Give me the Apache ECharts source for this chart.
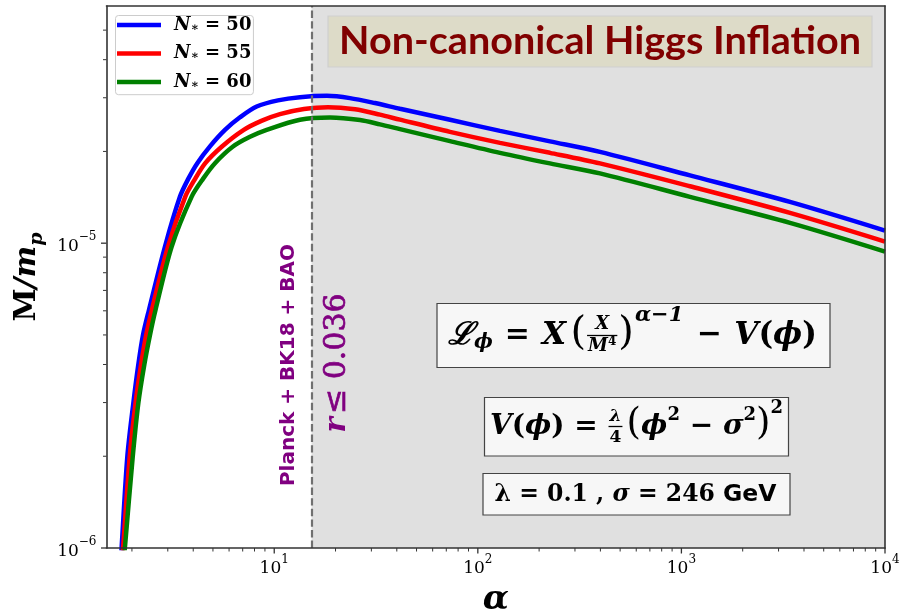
<!DOCTYPE html>
<html>
<head>
<meta charset="utf-8">
<script src="https://cdn.jsdelivr.net/npm/echarts@6/dist/echarts.min.js"></script>
<style>
  html, body { margin: 0; padding: 0; background: #fff; }
  #chart { width: 903px; height: 615px; }
</style>
</head>
<body>
<div id="chart"></div>
<script>
// e-fold numbers N* of the three curves
const nStar = [50, 55, 60];

// alpha and M/m_p along each curve
const alpha50 = [1.739, 1.781, 1.898, 2.031, 2.149, 2.267, 2.425, 2.907, 3.444, 3.770, 4.19, 4.834, 5.729, 6.788, 8.2, 10.43, 13.38, 18.16, 23.56, 31.24, 41.46, 72.98, 128.5, 226.1, 398.1, 1102, 3414, 10000];
const mass50  = [7.85e-7, 1.01e-6, 1.99e-6, 2.98e-6, 3.99e-6, 5.0e-6, 6.04e-6, 9.75e-6, 1.422e-5, 1.619e-5, 1.83e-5, 2.078e-5, 2.353e-5, 2.588e-5, 2.808e-5, 2.942e-5, 3.014e-5, 3.044e-5, 2.992e-5, 2.882e-5, 2.760e-5, 2.54e-5, 2.336e-5, 2.158e-5, 1.993e-5, 1.669e-5, 1.366e-5, 1.10e-5];

const alpha55 = [1.763, 1.812, 1.95, 2.082, 2.216, 2.35, 2.506, 3.007, 3.657, 4.058, 4.585, 5.538, 7.086, 8.705, 10.67, 14.0, 18.37, 24.93, 33.06, 41.46, 72.98, 128.5, 226.1, 398.1, 1102, 3414, 10000];
const mass55  = [7.85e-7, 1.01e-6, 1.99e-6, 2.98e-6, 3.99e-6, 5.0e-6, 6.04e-6, 9.75e-6, 1.422e-5, 1.613e-5, 1.83e-5, 2.075e-5, 2.353e-5, 2.523e-5, 2.651e-5, 2.754e-5, 2.795e-5, 2.749e-5, 2.640e-5, 2.542e-5, 2.319e-5, 2.134e-5, 1.979e-5, 1.827e-5, 1.537e-5, 1.257e-5, 1.012e-5];

const alpha60 = [1.792, 1.849, 2.018, 2.149, 2.3, 2.453, 2.611, 3.136, 3.931, 4.467, 5.117, 6.272, 7.603, 9.182, 13.38, 18.79, 26.38, 33.06, 41.46, 72.98, 128.5, 226.1, 398.1, 1102, 3414, 10000];
const mass60  = [7.85e-7, 1.01e-6, 1.99e-6, 2.98e-6, 3.99e-6, 5.0e-6, 6.04e-6, 9.75e-6, 1.422e-5, 1.626e-5, 1.83e-5, 2.075e-5, 2.233e-5, 2.353e-5, 2.54e-5, 2.584e-5, 2.535e-5, 2.454e-5, 2.366e-5, 2.162e-5, 1.979e-5, 1.827e-5, 1.694e-5, 1.419e-5, 1.166e-5, 9.385e-6];

// observational bound (Planck + BK18 + BAO, r <= 0.036)
const boundAlpha = 15.25;

// axis ranges and ticks
const xRange = [1.5, 10000];
const yRange = [1e-6, 6e-5];
const xMajorTicks = [10, 100, 1000, 10000];
const xMinorTicks = [2, 3, 4, 5, 6, 7, 8, 9, 20, 30, 40, 50, 60, 70, 80, 90, 200, 300, 400, 500, 600, 700, 800, 900, 2000, 3000, 4000, 5000, 6000, 7000, 8000, 9000];
const yMajorTicks = [1e-6, 1e-5];
const yMinorTicks = [2e-6, 3e-6, 4e-6, 5e-6, 6e-6, 7e-6, 8e-6, 9e-6, 2e-5, 3e-5, 4e-5, 5e-5];

const curveAlpha = [alpha50, alpha55, alpha60];
const curveMass = [mass50, mass55, mass60];
const curveColors = ['#0000ff', '#ff0000', '#008000'];

const SERIF = '"DejaVu Serif", "Liberation Serif", serif';
const SANS = '"DejaVu Sans", "Liberation Sans", sans-serif';
const fBI = s => `italic bold ${s}px ${SERIF}`;
const fB = s => `bold ${s}px ${SERIF}`;
const fR = s => `${s}px ${SERIF}`;
const fSansB = s => `bold ${s}px ${SANS}`;

const measureCtx = document.createElement('canvas').getContext('2d');
function textWidth(text, font) { measureCtx.font = font; return measureCtx.measureText(text).width; }
function rowWidth(row) { return row.reduce((w, p) => w + textWidth(p.t, p.f) + (p.kern || 0), 0); }
function txt(p, x, y, color) {
  return { type: 'text', x: x + (p.kern || 0) / 2, y: y, z: 101, silent: true,
    style: { text: p.t, font: p.f, fill: color, align: 'left', verticalAlign: 'middle' } };
}
// lays a formula out piece by piece, centred on (cx, cy)
function formulaElements(parts, cx, cy, color) {
  const widths = parts.map(p => p.frac ? Math.max(rowWidth(p.num), rowWidth(p.den)) + 4 : textWidth(p.t, p.f) + (p.kern || 0));
  const total = widths.reduce((a, b) => a + b, 0);
  let x = cx - total / 2;
  const els = [];
  parts.forEach((p, i) => {
    if (p.frac) {
      const w = widths[i];
      const place = (row, dy) => {
        let rx = x + (w - rowWidth(row)) / 2;
        row.forEach(q => { els.push(txt(q, rx, cy + dy + (q.dy || 0), color)); rx += textWidth(q.t, q.f) + (q.kern || 0); });
      };
      place(p.num, p.numDy);
      place(p.den, p.denDy);
      els.push({ type: 'line', z: 101, silent: true,
        shape: { x1: x + 1, y1: cy + p.barDy, x2: x + w - 1, y2: cy + p.barDy },
        style: { stroke: color, lineWidth: 1.3 } });
    } else {
      els.push(txt(p, x, cy + (p.dy || 0), color));
    }
    x += widths[i];
  });
  return els;
}

function boxRect(x, y, w, h, fill, stroke) {
  return { type: 'rect', z: 100, silent: true, shape: { x: x, y: y, width: w, height: h },
    style: { fill: fill, stroke: stroke, lineWidth: 1.2 } };
}

// Lagrangian
const lagrangian = [
  { t: 'ℒ', f: fBI(31) },
  { t: 'ϕ', f: fBI(20), dy: 7 },
  { t: ' = ', f: fB(30), kern: 3 },
  { t: 'X', f: fBI(31) },
  { t: ' ', f: fR(14) },
  { t: '(', f: fR(40), dy: -2 },
  { frac: true, num: [{ t: 'X', f: fBI(18) }], den: [{ t: 'M', f: fBI(18) }, { t: '4', f: fB(12), dy: -5 }], numDy: -11, denDy: 11, barDy: 0 },
  { t: ')', f: fR(40), dy: -2 },
  { t: 'α−1', f: fBI(21), dy: -20, kern: 2 },
  { t: ' − ', f: fB(30), kern: 4 },
  { t: 'V', f: fBI(31) }, { t: '(', f: fB(31) }, { t: 'ϕ', f: fBI(31) }, { t: ')', f: fB(31) }
];
// Higgs potential
const potential = [
  { t: 'V', f: fBI(28) }, { t: '(', f: fB(28) }, { t: 'ϕ', f: fBI(28) }, { t: ')', f: fB(28) },
  { t: ' = ', f: fB(28) },
  { frac: true, num: [{ t: 'λ', f: fBI(17) }], den: [{ t: '4', f: fB(17) }], numDy: -10, denDy: 11, barDy: 0 },
  { t: ' ', f: fR(10) },
  { t: '(', f: fR(37), dy: -2 },
  { t: 'ϕ', f: fBI(28) }, { t: '2', f: fB(18), dy: -11 },
  { t: ' − ', f: fB(28) },
  { t: 'σ', f: fBI(28) }, { t: '2', f: fB(18), dy: -11 },
  { t: ')', f: fR(37), dy: -2 },
  { t: '2', f: fB(18), dy: -18 }
];
// parameter values
const params = [
  { t: 'λ', f: fB(23.5) }, { t: ' = ', f: fB(23.5) }, { t: '0.1', f: fB(23.5) }, { t: ' , ', f: fB(23.5) },
  { t: 'σ', f: fBI(23.5) }, { t: ' = ', f: fB(23.5) }, { t: '246 ', f: fB(23.5) }, { t: 'GeV', f: fSansB(23.5) }
];

// title text fitted to its box width
const titleText = 'Non-canonical Higgs Inflation';
const titleFont = 'bold 39px Lato, "DejaVu Sans", sans-serif';
const titleScale = 522 / textWidth(titleText, titleFont);

const graphicEls = [
  boxRect(328, 16, 544, 51, '#dddbc8', '#cfcfcf'),
  { type: 'text', x: 600, y: 41, z: 101, scaleX: titleScale, silent: true,
    style: { text: titleText, font: titleFont, fill: '#800000', align: 'center', verticalAlign: 'middle' } },
  boxRect(437, 303.5, 393, 64, '#f7f7f7', '#444'),
  boxRect(484.5, 397.5, 304, 58.5, '#f7f7f7', '#444'),
  boxRect(483, 473.5, 307, 41.5, '#f7f7f7', '#444'),
  { type: 'text', x: 288.5, y: 365, rotation: Math.PI / 2, z: 101, silent: true,
    style: { text: 'Planck + BK18 + BAO', font: `bold 20px ${SANS}`, fill: '#800080', align: 'center', verticalAlign: 'middle' } },
  { type: 'text', x: 337, y: 363, rotation: Math.PI / 2, z: 101, silent: true,
    style: { text: '{r|r} {o|≤ 0.036}', fill: '#800080', align: 'center', verticalAlign: 'middle',
      rich: { r: { font: fBI(29), fill: '#800080' }, o: { font: fR(30), fill: '#800080', stroke: '#800080', lineWidth: 0.7 } } } }
].concat(
  formulaElements(lagrangian, 632.5, 335.5, '#000'),
  formulaElements(potential, 636.5, 426.5, '#000'),
  formulaElements(params, 635.5, 494.5, '#000')
);

function powLabel(v) {
  const e = Math.round(Math.log10(v));
  if (Math.abs(Math.log10(v) - e) > 1e-6) return '';
  return '{b|10}{s|' + String(e).replace('-', '−') + '}';
}
const powRich = {
  b: { fontFamily: SERIF, fontSize: 17, lineHeight: 24, verticalAlign: 'bottom', color: '#000' },
  s: { fontFamily: SERIF, fontSize: 12, lineHeight: 14, verticalAlign: 'top', color: '#000' }
};

const axisLine = { show: true, lineStyle: { color: '#333', width: 1.6 } };

function tickSeries(dataArr, isX) {
  return {
    type: 'custom', z: 10, silent: true, clip: false,
    encode: { x: 0, y: 1 },
    data: dataArr,
    renderItem: function (params, api) {
      const p = api.coord([api.value(0), api.value(1)]);
      const major = api.value(2) === 1;
      const len = major ? 5.5 : 3.5;
      const shape = isX ? { x1: p[0], y1: p[1], x2: p[0], y2: p[1] + len }
                        : { x1: p[0], y1: p[1], x2: p[0] - len, y2: p[1] };
      return { type: 'line', shape: shape, style: { stroke: '#333', lineWidth: major ? 1.3 : 1 } };
    }
  };
}
const xTickData = xMajorTicks.map(v => [v, yRange[0], 1]).concat(xMinorTicks.map(v => [v, yRange[0], 0]));
const yTickData = yMajorTicks.map(v => [xRange[0], v, 1]).concat(yMinorTicks.map(v => [xRange[0], v, 0]));

const curveSeries = nStar.map((n, i) => ({
  name: 'N∗ = ' + n,
  type: 'line',
  data: curveAlpha[i].map((a, k) => [a, curveMass[i][k]]),
  showSymbol: false,
  smooth: 0.3,
  clip: true,
  z: 3,
  color: curveColors[i],
  itemStyle: { color: curveColors[i] },
  lineStyle: { color: curveColors[i], width: 4.5 }
}));

const option = {
  animation: false,
  backgroundColor: '#fff',
  grid: { left: 106.5, right: 18, top: 6, bottom: 67, containLabel: false, outerBoundsMode: 'none' },
  xAxis: [
    { type: 'log', logBase: 10, min: xRange[0], max: xRange[1], z: 10,
      axisLine: axisLine, axisTick: { show: false }, splitLine: { show: false }, minorTick: { show: false },
      axisLabel: { formatter: powLabel, rich: powRich, margin: 5.5, showMinLabel: true, showMaxLabel: true },
      name: 'α', nameLocation: 'middle', nameGap: 35, nameMoveOverlap: false,
      nameTextStyle: { fontFamily: SERIF, fontStyle: 'italic', fontWeight: 'bold', fontSize: 34, color: '#000' } },
    { type: 'log', logBase: 10, min: xRange[0], max: xRange[1], position: 'top', z: 10,
      axisLine: axisLine, axisTick: { show: false }, axisLabel: { show: false }, splitLine: { show: false } }
  ],
  yAxis: [
    { type: 'log', logBase: 10, min: yRange[0], max: yRange[1], z: 10,
      axisLine: axisLine, axisTick: { show: false }, splitLine: { show: false }, minorTick: { show: false },
      axisLabel: { formatter: powLabel, rich: powRich, margin: 10, showMinLabel: true, showMaxLabel: true },
      name: '{m|M}{i|/m}{p|p}', nameLocation: 'middle', nameRotate: 90, nameGap: 60, nameMoveOverlap: false,
      nameTextStyle: { rich: {
        m: { fontFamily: SERIF, fontWeight: 'bold', fontSize: 30, lineHeight: 34, verticalAlign: 'top', color: '#000' },
        i: { fontFamily: SERIF, fontStyle: 'italic', fontWeight: 'bold', fontSize: 30, lineHeight: 34, verticalAlign: 'top', color: '#000' },
        p: { fontFamily: SERIF, fontStyle: 'italic', fontWeight: 'bold', fontSize: 19, lineHeight: 18, verticalAlign: 'bottom', color: '#000' }
      } } },
    { type: 'log', logBase: 10, min: yRange[0], max: yRange[1], position: 'right', z: 10,
      axisLine: axisLine, axisTick: { show: false }, axisLabel: { show: false }, splitLine: { show: false } }
  ],
  legend: {
    data: curveSeries.map(s => s.name),
    orient: 'vertical', left: 115.5, top: 15.5,
    icon: 'rect', itemWidth: 44, itemHeight: 4.5, itemGap: 10.5,
    padding: [0.5, 2, 3.7, 1.5],
    backgroundColor: '#fff', borderColor: '#cccccc', borderWidth: 1, borderRadius: 3,
    formatter: name => '{g|}{n|N}{s|∗}{e|' + name.slice(2) + '}',
    textStyle: { rich: {
      g: { width: 8, lineHeight: 17 },
      n: { fontFamily: SERIF, fontStyle: 'italic', fontWeight: 'bold', fontSize: 18, lineHeight: 17, color: '#000' },
      s: { fontFamily: SERIF, fontWeight: 'bold', fontSize: 12, lineHeight: 9, verticalAlign: 'bottom', color: '#000' },
      e: { fontFamily: SERIF, fontWeight: 'bold', fontSize: 18, lineHeight: 17, color: '#000' }
    } }
  },
  series: [
    { name: 'bound region', type: 'line', data: [], z: 1, silent: true,
      markArea: { silent: true, itemStyle: { color: '#e0e0e0' },
        data: [[{ coord: [boundAlpha, yRange[0]] }, { coord: [xRange[1], yRange[1]] }]] } }
  ].concat(curveSeries, [
    { name: 'bound line', type: 'line', data: [], z: 5, silent: true,
      markLine: { silent: true, symbol: 'none', label: { show: false },
        lineStyle: { color: '#707070', width: 2.2, type: [7.4, 3.2] },
        data: [{ xAxis: boundAlpha }] } },
    tickSeries(xTickData, true),
    tickSeries(yTickData, false)
  ]),
  graphic: { elements: graphicEls }
};

const chart = echarts.init(document.getElementById('chart'), null, { renderer: 'canvas' });
chart.setOption(option);
</script>
</body>
</html>
